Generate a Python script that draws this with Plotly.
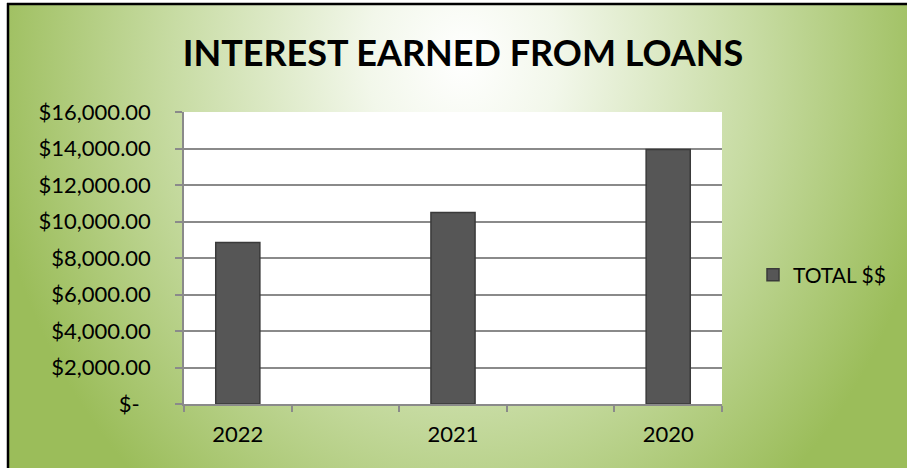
import base64
import plotly.graph_objects as go

years = ["2022", "2021", "2020"]
totals = [8850, 10500, 13950]
series_name = "TOTAL $$"
y_ticks = [0, 2000, 4000, 6000, 8000, 10000, 12000, 14000, 16000]
y_labels = ["$-\u00a0\u00a0", "$2,000.00", "$4,000.00", "$6,000.00", "$8,000.00",
            "$10,000.00", "$12,000.00", "$14,000.00", "$16,000.00"]

# excel leaves an empty slot between each year
cats, vals = [], []
for i, (yr, v) in enumerate(zip(years, totals)):
    cats.append(yr)
    vals.append(v)
    if i < len(years) - 1:
        cats.append(" " * (i + 1))
        vals.append(None)

W, H = 907, 468
L, R, T, B = 184, 185, 112, 64
pw, ph = W - L - R, H - T - B

def px(x):
    return (x - L) / pw

def py(y):
    return (H - B - y) / ph

# green radial fill behind everything (the chart area in excel)
bw, bh = W - 8, H - 4
svg = f"""<svg xmlns='http://www.w3.org/2000/svg' width='{bw}' height='{bh}' viewBox='0 0 {bw} {bh}' preserveAspectRatio='none'>
<defs><radialGradient id='g' cx='0' cy='0' r='1' gradientUnits='userSpaceOnUse' gradientTransform='translate(455,55) scale(480,570)'>
<stop offset='0' stop-color='#ffffff'/>
<stop offset='0.2' stop-color='#f2f7ea'/>
<stop offset='0.6' stop-color='#c8dca4'/>
<stop offset='1' stop-color='#9bbd5a'/>
</radialGradient></defs>
<rect x='0' y='0' width='{bw}' height='{bh}' fill='url(#g)'/></svg>"""
bg_src = "data:image/svg+xml;base64," + base64.b64encode(svg.encode()).decode()

fig = go.Figure(go.Bar(
    x=cats, y=vals, name=series_name,
    marker=dict(color="#565656", line=dict(color="#3a3a3a", width=1.5)),
    showlegend=True,
))

grid = "#8a8a8a"
fig.update_layout(
    width=W, height=H,
    margin=dict(l=L, r=R, t=T, b=B, autoexpand=False),
    paper_bgcolor="white",
    plot_bgcolor="white",
    font=dict(family="Lato", color="black", size=22),
    title=dict(text="<b>INTEREST EARNED FROM LOANS</b>", x=463 / W,
               xanchor="center", y=1 - 53 / H, yanchor="middle",
               font=dict(size=36, family="Lato")),
    bargap=0.59,
    showlegend=True,
    legend=dict(x=px(753), y=py(275), xanchor="left", yanchor="middle",
                bgcolor="rgba(0,0,0,0)", font=dict(size=21)),
    xaxis=dict(type="category", categoryorder="array", categoryarray=cats,
               tickson="boundaries", ticks="outside", ticklen=6, tickcolor=grid,
               tickwidth=1.5, showline=True, linecolor=grid, linewidth=1.5,
               showgrid=False, ticklabelstandoff=10),
    yaxis=dict(range=[0, 16000], tickvals=y_ticks, ticktext=y_labels,
               ticks="outside", ticklen=7, tickcolor=grid, tickwidth=1.5,
               showline=True, linecolor=grid, linewidth=1.5,
               showgrid=True, gridcolor=grid, gridwidth=1.5, zeroline=False,
               ticklabelstandoff=20),
    images=[dict(source=bg_src, xref="paper", yref="paper",
                 x=px(8), y=py(4), sizex=bw / pw, sizey=bh / ph,
                 xanchor="left", yanchor="top", sizing="stretch", layer="below")],
    shapes=[
        dict(type="rect", xref="x domain", yref="y domain", x0=0, x1=1, y0=0, y1=1,
             fillcolor="white", line=dict(width=0), layer="below"),
        dict(type="line", xref="paper", yref="paper", x0=px(7), x1=px(W + 5),
             y0=py(4), y1=py(4), line=dict(color="black", width=2.5)),
        dict(type="line", xref="paper", yref="paper", x0=px(8), x1=px(8),
             y0=py(3), y1=py(H + 5), line=dict(color="black", width=2.5)),
    ],
)

fig.write_html("out.html", config={"displayModeBar": False},
               post_script="document.body.style.margin='0px';")
